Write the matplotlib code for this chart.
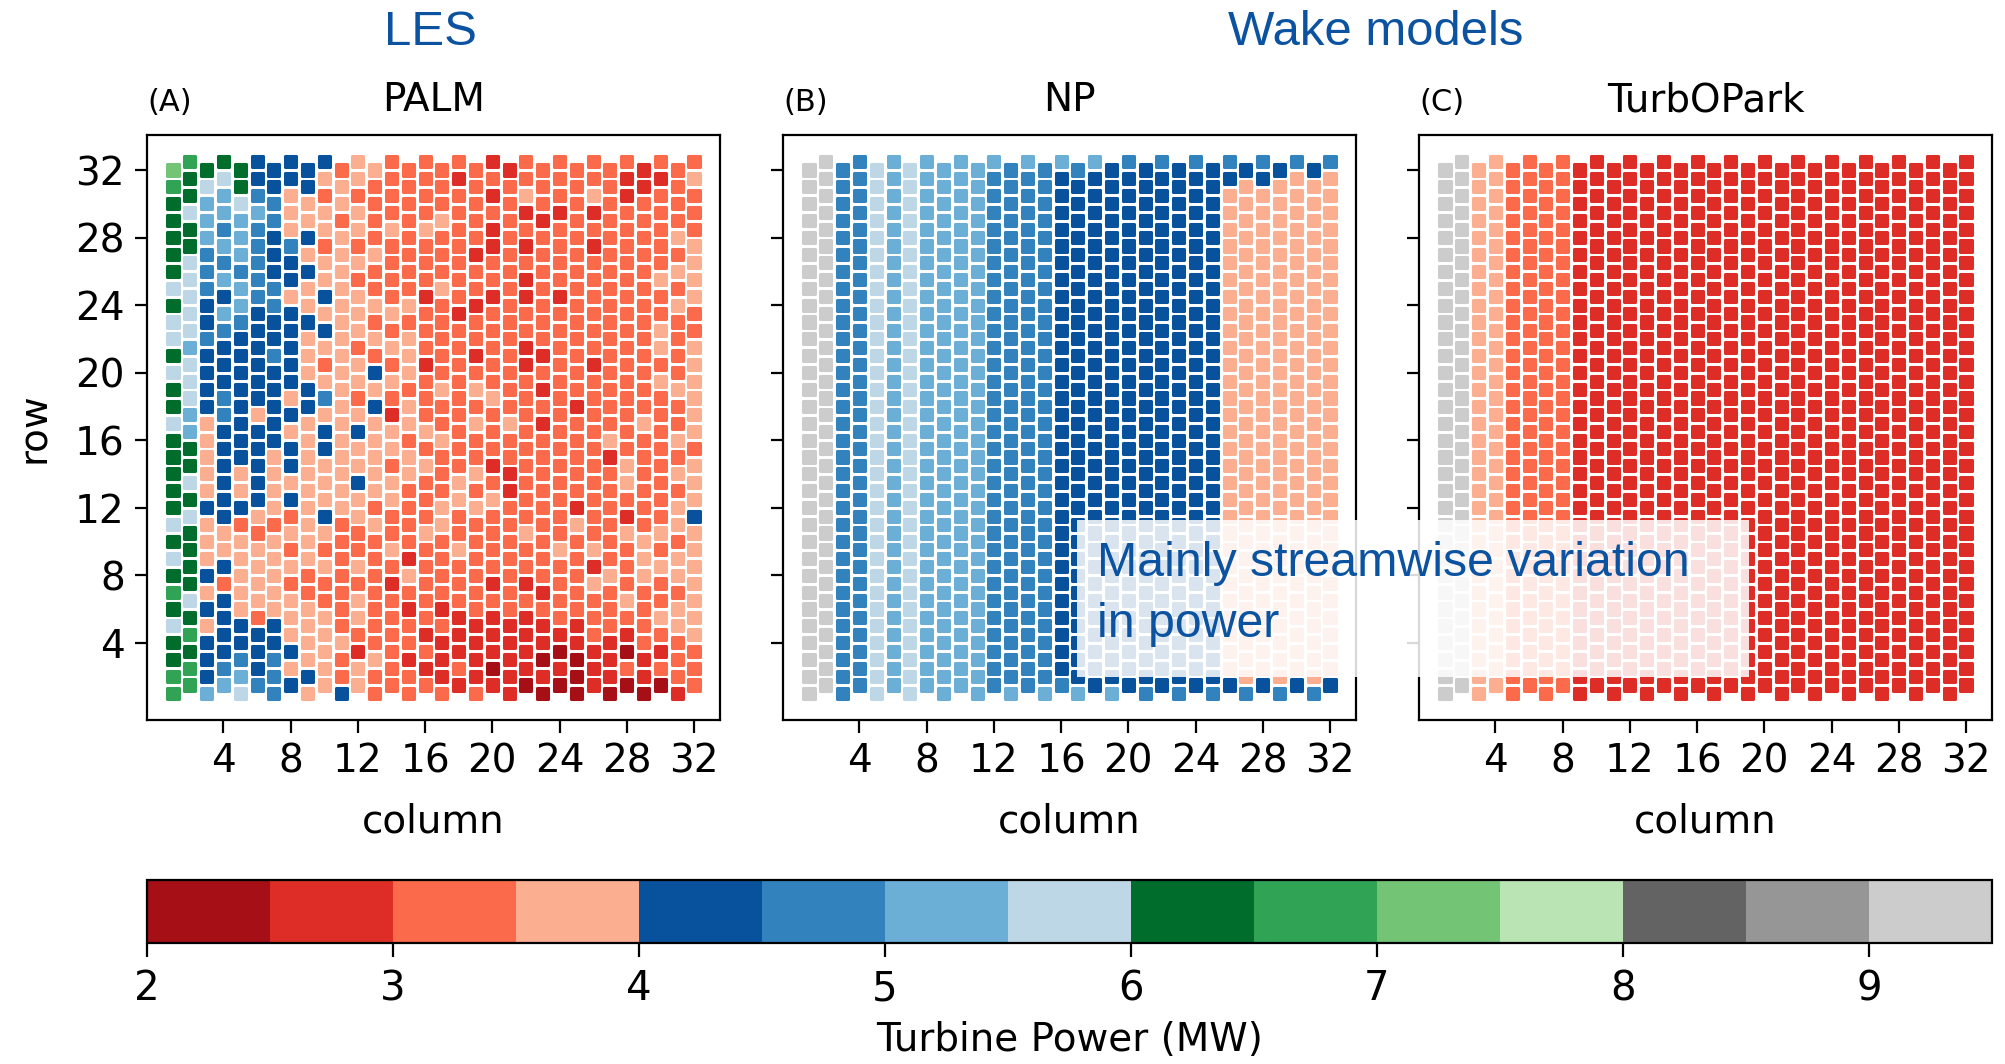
import numpy as np
import matplotlib.pyplot as plt
from matplotlib.colors import ListedColormap, BoundaryNorm
from matplotlib.patches import Rectangle

# colour class for every turbine -> bin centre (MW)
code_mw = {'D': 2.25, 'R': 2.75, 'o': 3.25, 's': 3.75,
           'B': 4.25, 'b': 4.75, 'c': 5.25, 'l': 5.75,
           'G': 6.25, 'g': 6.75, 'h': 7.25, 'e': 7.75,
           'K': 8.25, 'k': 8.75, 'w': 9.25}

# one string per column (1..32), rows listed from top (32) to bottom (1)
palm_cols = [
    "hgGGGGGl" "GllGlGGl" "GGGGGlGl" "GgGlGGgg",
    "gGGlGGll" "lllclllc" "cGGlGlGG" "GGlGgGgg",
    "Glcccbbb" "BBbBBBBs" "ssssBsss" "BsBsBBBc",
    "Glccbcbc" "BcbBBBbb" "BBBBBBss" "BoBBBBbc",
    "GGlcccbc" "cbBBBBBB" "BBssBoss" "sssBBbcl",
    "BBbcbbbb" "bBBBBBBs" "BBBBBsos" "sssoBBBb",
    "BBbbBBBb" "bBBbBBBB" "Bssssoss" "sssBBbbb",
    "BBsssbBB" "sBBBBBsB" "sBBsBoso" "sosssBsB",
    "BBssBsBs" "sBsssBBs" "ssssssss" "oossssBs",
    "Bsossoss" "BsBsosbs" "BBsssBso" "soosssss",
    "ossossss" "ssssssss" "sssssooo" "oooosooB",
    "ssossoso" "sssossos" "BssBssoo" "sossoRss",
    "soooosoo" "sosoBsBs" "ssssosoo" "ooooosoo",
    "oooosooo" "osososoR" "ssossoos" "oRoooooo",
    "oooooooo" "sosssoss" "ossooooR" "soRooRoo",
    "oooosooo" "RoooRooo" "sosoooso" "ooooRoRo",
    "ooosooos" "ooooosoo" "sooossoo" "ooRoRRRo",
    "oRoooooo" "oRoooooo" "ooossoos" "oooRRRoR",
    "oooooRoo" "RooRosos" "oososooo" "oooRRRRo",
    "RoRoRRoo" "Roooooso" "ooRosooo" "oRoRRRDR",
    "Rooooooo" "ooooooos" "ooRRoooo" "oooRRRRR",
    "oosRoRoR" "RooRRooo" "ooooooso" "oRoRRRRD",
    "oooRoooo" "oooRoRoR" "oooooooo" "oRoRRDRD",
    "oooRoooo" "Rooooooo" "ooooooos" "ooooRDRD",
    "oooooooo" "ooooooRo" "ooooRsoo" "oooRRDDD",
    "oosRoRoo" "ooooRooo" "ooooooos" "RsoooRRR",
    "oooooooo" "oooooooo" "sRoooooo" "soooRRRD",
    "oRRooooo" "oooooooo" "oossoRso" "oosoRDoD",
    "RRoooooo" "ooooooos" "ooooooss" "sooooRRD",
    "oRooooos" "oossosoo" "ooooooso" "soosoRoD",
    "oooososo" "soooosoo" "sosossos" "sossoooR",
    "osooosss" "soosssss" "sosssBss" "sssssooo",
]

np_cols = [
    "wwwwwwww" "wwwwwwww" "wwwwwwww" "wwwwwwww",
    "wwwwwwww" "wwwwwwww" "wwwwwwww" "wwwwwwww",
    "bbbbbbbb" "bbbbbbbb" "bbbbbbbb" "bbbbbbbb",
    "bbbbbbbb" "bbbbbbbb" "bbbbbbbb" "bbbbbbbb",
    "llllllll" "llllllll" "llllllll" "llllllll",
    "cccccccc" "cccccccc" "cccccccc" "cccccccc",
    "llllllll" "llllllll" "llllllll" "llllllll",
    "cccccccc" "cccccccc" "cccccccc" "cccccccc",
    "cccccccc" "cccccccc" "cccccccc" "cccccccc",
    "cccccccc" "cccccccc" "cccccccc" "cccccccc",
    "cccccccc" "cccccccc" "cccccccc" "cccccccc",
    "cbbbbbbb" "bbbbbbbb" "bbbbbbbb" "bbbbbbbb",
    "bbbbbbbb" "bbbbbbbb" "bbbbbbbb" "bbbbbbbc",
    "cbbbbbbb" "bbbbbbbb" "bbbbbbbb" "bbbbbbbb",
    "bbbbbbbb" "bbbbbbbb" "bbbbbbbb" "bbbbbbbc",
    "cBBBBBBB" "BBBBBBBB" "BBBBBBBB" "BBBBBBBb",
    "bBBBBBBB" "BBBBBBBB" "BBBBBBBB" "BBBBBBBc",
    "cBBBBBBB" "BBBBBBBB" "BBBBBBBB" "BBBBBBBB",
    "BBBBBBBB" "BBBBBBBB" "BBBBBBBB" "BBBBBBBc",
    "bBBBBBBB" "BBBBBBBB" "BBBBBBBB" "BBBBBBBB",
    "BBBBBBBB" "BBBBBBBB" "BBBBBBBB" "BBBBBBBb",
    "bBBBBBBB" "BBBBBBBB" "BBBBBBBB" "BBBBBBBB",
    "BBBBBBBB" "BBBBBBBB" "BBBBBBBB" "BBBBBBBb",
    "bBBBBBBB" "BBBBBBBB" "BBBBBBBB" "BBBBBBBB",
    "BBBBBBBB" "BBBBBBBB" "BBBBBBBB" "BBBBBBBb",
    "bBssssss" "ssssssss" "ssssssss" "sssssssB",
    "Bsssssss" "ssssssss" "ssssssss" "sssssssb",
    "bBssssss" "ssssssss" "ssssssss" "sssssssB",
    "Bsssssss" "ssssssss" "ssssssss" "sssssssb",
    "bsssssss" "ssssssss" "ssssssss" "sssssssB",
    "Bsssssss" "ssssssss" "ssssssss" "sssssssb",
    "bsssssss" "ssssssss" "ssssssss" "sssssssB",
]

turbopark_cols = [
    "wwwwwwww" "wwwwwwww" "wwwwwwww" "wwwwwwww",
    "wwwwwwww" "wwwwwwww" "wwwwwwww" "wwwwwwww",
    "ssssssss" "ssssssss" "ssssssss" "ssssssss",
    "ssssssss" "ssssssss" "ssssssss" "ssssssss",
] + [
    "oooooooo" "oooooooo" "oooooooo" "oooooooo",
] * 4 + [
    "RRRRRRRR" "RRRRRRRR" "RRRRRRRR" "RRRRRRRR",
] * 24

panel_names = ['PALM', 'NP', 'TurbOPark']
panel_tags = ['(A)', '(B)', '(C)']
cbar_ticks = [2, 3, 4, 5, 6, 7, 8, 9]

colors = ['#a50f15', '#de2d26', '#fb6a4a', '#fcae91',
          '#08519c', '#3182bd', '#6baed6', '#bdd7e7',
          '#006d2c', '#31a354', '#74c476', '#bae4b3',
          '#636363', '#969696', '#cccccc']
cmap = ListedColormap(colors)
norm = BoundaryNorm(np.arange(2, 10, 0.5), cmap.N)


def turbines(cols):
    # even columns sit half a row higher (staggered layout)
    xs, ys, vals = [], [], []
    for j, col in enumerate(cols):
        c = j + 1
        shift = 0.5 if c % 2 == 0 else 0.0
        for i, code in enumerate(col):
            xs.append(c)
            ys.append(32 - i + shift)
            vals.append(code_mw[code])
    return np.array(xs), np.array(ys), np.array(vals)


W, H = 2005, 1064
fig = plt.figure(figsize=(W / 200, H / 200), dpi=200)

lefts = [147, 783, 1419]
blue = '#0b53a0'
sc = None
for k, cols in enumerate([palm_cols, np_cols, turbopark_cols]):
    ax = fig.add_axes([lefts[k] / W, (H - 720) / H, 573 / W, 585 / H])
    x, y, v = turbines(cols)
    sc = ax.scatter(x, y, c=v, cmap=cmap, norm=norm, marker='s', s=16,
                    edgecolors='face', linewidths=1.1, joinstyle='round')
    ax.set_xlim(-0.55, 33.55)
    ax.set_ylim(-0.575, 34.075)
    ax.set_xticks(range(4, 33, 4))
    ax.set_yticks(range(4, 33, 4))
    ax.tick_params(labelsize=14, length=4.5)
    ax.set_xlabel('column', fontsize=14, labelpad=8)
    if k == 0:
        ax.set_ylabel('row', fontsize=14, labelpad=8)
    else:
        ax.tick_params(labelleft=False)
    ax.set_title(panel_names[k], fontsize=14, pad=8.5)
    ax.set_title(panel_tags[k], loc='left', fontsize=11, pad=8.5)

cax = fig.add_axes([147 / W, (H - 943) / H, 1845 / W, 63 / H])
cb = fig.colorbar(sc, cax=cax, orientation='horizontal', ticks=cbar_ticks)
cb.minorticks_off()
cb.ax.tick_params(labelsize=14.5, length=5, pad=4.5)
cb.set_label('Turbine Power (MW)', fontsize=14, labelpad=4)

fig.text(430 / W, 1 - 45 / H, 'LES', color=blue, fontsize=17.7,
         family='Liberation Sans', ha='center', va='baseline')
fig.text(1376 / W, 1 - 45 / H, 'Wake models', color=blue, fontsize=17.7,
         family='Liberation Sans', ha='center', va='baseline')

fig.add_artist(Rectangle((1077 / W, 1 - 677 / H), 672 / W, 157 / H,
                         transform=fig.transFigure, facecolor='white',
                         edgecolor='none', alpha=0.85, zorder=5))
fig.text(1097 / W, 1 - 594 / H, 'Mainly streamwise variation\nin power',
         color=blue, fontsize=17.4, family='Liberation Sans', linespacing=1.45,
         ha='left', va='center', zorder=6)

fig.savefig('out.png', dpi=200)
